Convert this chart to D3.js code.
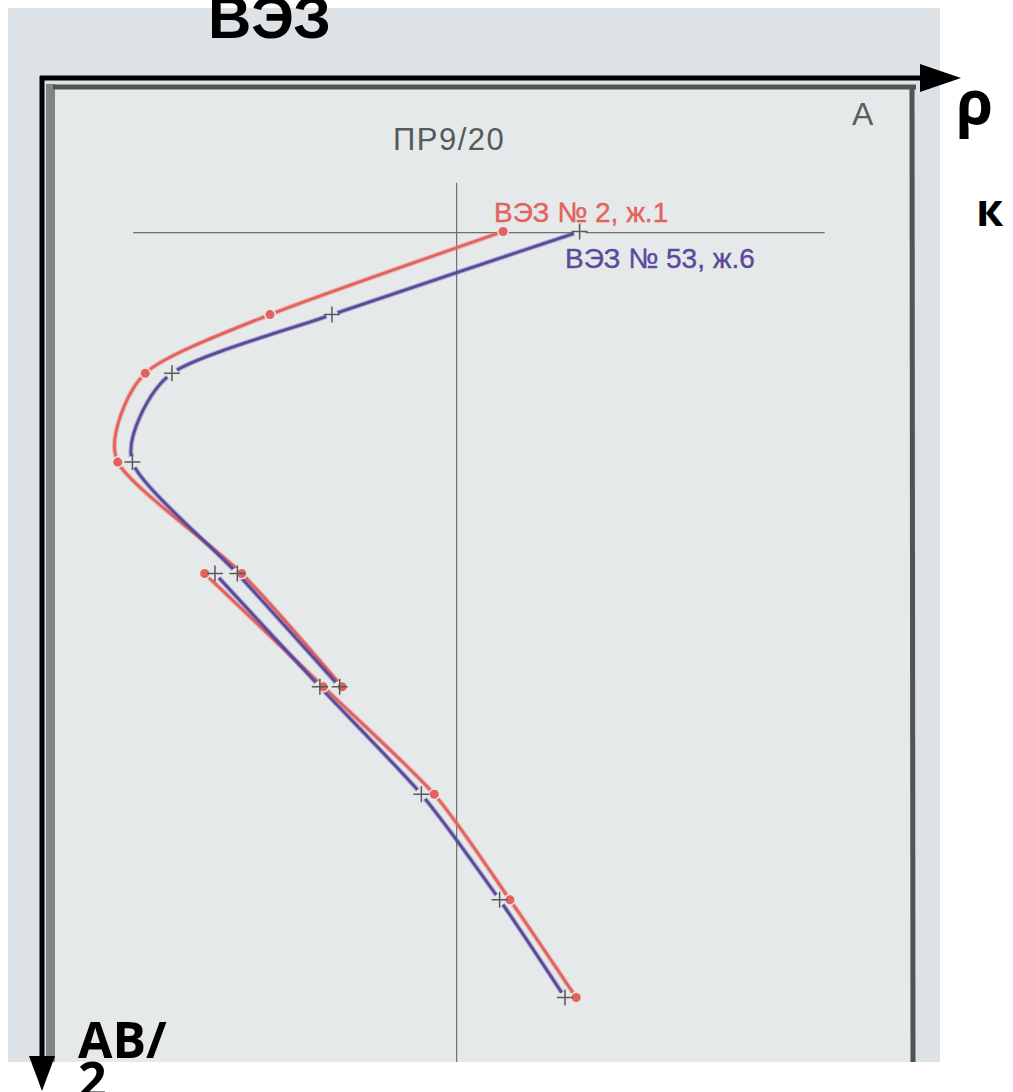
<!DOCTYPE html>
<html>
<head>
<meta charset="utf-8">
<script src="https://cdn.jsdelivr.net/npm/d3@7"></script>
<style>
  body { margin: 0; background: #ffffff; }
  svg { display: block; }
</style>
</head>
<body>
<svg id="chart"></svg>
<script>
// AB/2 levels of the readings, in % of sheet height
const ab2 = [15.0, 23.5, 29.5, 38.6, 50.0, 61.6, 72.6, 83.4, 93.4];

// ρк readings, in % of sheet width. Segment A = first MN, segment B = second MN (overlap at two AB/2)
const redA = [52.1, 25.0, 10.5, 7.3, 21.7, 33.4];          // ВЭЗ № 2, ж.1  (ab2[0..5])
const redB = [17.4, 31.2, 44.1, 52.9, 60.6];               // (ab2[4..8])
const blueA = [61.0, 32.2, 13.6, 9.0, 21.2, 33.1];         // ВЭЗ № 53, ж.6
const blueB = [18.6, 30.8, 42.6, 51.7, 59.3];

const seriesNames = ["ВЭЗ № 2, ж.1", "ВЭЗ № 53, ж.6"];
const crossRho = 46.7;   // reference vertical
const crossAb2 = 15.1;   // reference horizontal

const width = 1013;
const height = 1092;
const paperColor = '#e6e9ea';
const red = '#e4625b';
const blue = '#5a4a9c';

const svg = d3.select('#chart').attr('width', width).attr('height', height);

// sheet scales
const x = d3.scaleLinear().domain([0, 100]).range([55, 915]);
const y = d3.scaleLinear().domain([0, 100]).range([85, 1062]);

// photo background + sheet
svg.append('rect').attr('x', 8).attr('y', 8).attr('width', 932).attr('height', 1054).attr('fill', '#dce2e6');
svg.append('rect').attr('x', 55).attr('y', 86).attr('width', 858).attr('height', 976).attr('fill', paperColor);
svg.append('rect').attr('x', 46).attr('y', 84).attr('width', 9).attr('height', 978).attr('fill', '#7e8682');
svg.append('line').attr('x1', 53).attr('x2', 916).attr('y1', 87).attr('y2', 87)
    .attr('stroke', '#4e5652').attr('stroke-width', 5);
svg.append('line').attr('x1', 912).attr('x2', 913).attr('y1', 85).attr('y2', 1062)
    .attr('stroke', '#4e5652').attr('stroke-width', 5);

// reference cross lines
svg.append('line').attr('x1', x(9.1)).attr('x2', x(89.5)).attr('y1', y(crossAb2)).attr('y2', y(crossAb2))
    .attr('stroke', '#6d7170').attr('stroke-width', 1.2);
svg.append('line').attr('x1', x(crossRho)).attr('x2', x(crossRho)).attr('y1', y(10)).attr('y2', y(100))
    .attr('stroke', '#6d7170').attr('stroke-width', 1.2);

// in-sheet labels
svg.append('text').attr('x', 393).attr('y', 150).text('ПР9/20')
    .attr('font-family', 'Liberation Sans, Arial, sans-serif').attr('font-size', 31)
    .attr('letter-spacing', 1.5).attr('fill', '#555a5a');
svg.append('text').attr('x', 852).attr('y', 125).text('A')
    .attr('font-family', 'Liberation Sans, Arial, sans-serif').attr('font-size', 32)
    .attr('fill', '#5a5f5e');
svg.append('text').attr('x', 494).attr('y', 222).text(seriesNames[0])
    .attr('font-family', 'Liberation Sans, Arial, sans-serif').attr('font-size', 28)
    .attr('fill', red).attr('stroke', red).attr('stroke-width', 0.4);
svg.append('text').attr('x', 565).attr('y', 268).text(seriesNames[1])
    .attr('font-family', 'Liberation Sans, Arial, sans-serif').attr('font-size', 28)
    .attr('fill', blue).attr('stroke', blue).attr('stroke-width', 0.4);

function toPoints(vals, offset) {
    return vals.map(function (v, i) { return { rho: v, ab: ab2[i + offset] }; });
}

const curves = [
    { color: red, kind: 'dot', segs: [toPoints(redA, 0), toPoints(redB, 4)] },
    { color: blue, kind: 'cross', segs: [toPoints(blueA, 0), toPoints(blueB, 4)] }
];

const line = d3.line()
    .x(function (d) { return x(d.rho); })
    .y(function (d) { return y(d.ab); })
    .curve(d3.curveCardinal.tension(0.3));

const lineGroup = svg.append('g').attr('class', 'lines');
curves.forEach(function (c) {
    c.segs.forEach(function (seg) {
        lineGroup.append('path').attr('d', line(seg)).attr('fill', 'none')
            .attr('stroke', c.color).attr('stroke-opacity', 0.35).attr('stroke-width', 5);
        lineGroup.append('path').attr('d', line(seg)).attr('fill', 'none')
            .attr('stroke', c.color).attr('stroke-width', 2.8).attr('stroke-linecap', 'round');
    });
});

// gaps around the readings
const haloGroup = svg.append('g').attr('class', 'halos');
curves.forEach(function (c) {
    c.segs.forEach(function (seg) {
        haloGroup.selectAll(null).data(seg).enter().append('circle')
            .attr('cx', function (d) { return x(d.rho); })
            .attr('cy', function (d) { return y(d.ab); })
            .attr('r', 6).attr('fill', paperColor);
    });
});

const markGroup = svg.append('g').attr('class', 'marks');
curves.forEach(function (c) {
    c.segs.forEach(function (seg) {
        if (c.kind === 'dot') {
            markGroup.selectAll(null).data(seg).enter().append('circle')
                .attr('cx', function (d) { return x(d.rho); })
                .attr('cy', function (d) { return y(d.ab); })
                .attr('r', 4.5).attr('fill', red);
        } else {
            markGroup.selectAll(null).data(seg).enter().append('path')
                .attr('d', function (d) {
                    const cx = x(d.rho), cy = y(d.ab);
                    return 'M' + (cx - 8) + ',' + cy + 'H' + (cx + 8) + 'M' + cx + ',' + (cy - 8) + 'V' + (cy + 8);
                })
                .attr('stroke', '#555a5c').attr('stroke-width', 1.5);
        }
    });
});

// overlaid axis arrows
svg.append('line').attr('x1', 40).attr('x2', 925).attr('y1', 78).attr('y2', 78)
    .attr('stroke', '#000').attr('stroke-width', 5);
svg.append('path').attr('d', 'M920,64L961,78L920,92Z').attr('fill', '#000');
svg.append('line').attr('x1', 42).attr('x2', 42).attr('y1', 76).attr('y2', 1060)
    .attr('stroke', '#000').attr('stroke-width', 5);
svg.append('path').attr('d', 'M29,1056L42,1091L55,1056Z').attr('fill', '#000');

// overlaid annotation text
svg.append('text').attr('x', 208).attr('y', 38).text('ВЭЗ')
    .attr('font-family', 'Liberation Sans, Arial, sans-serif').attr('font-weight', 'bold')
    .attr('font-size', 60).attr('fill', '#000');
svg.append('text').attr('x', 956).attr('y', 124).text('ρ')
    .attr('font-family', 'Open Sans, sans-serif').attr('font-weight', 'bold')
    .attr('font-size', 60).attr('fill', '#000');
svg.append('text').attr('x', 976).attr('y', 226).text('к')
    .attr('font-family', 'Open Sans, sans-serif').attr('font-weight', 'bold')
    .attr('font-size', 44).attr('fill', '#000');
svg.append('text').attr('x', 78).attr('y', 1058).text('AB/')
    .attr('font-family', 'Open Sans, sans-serif').attr('font-weight', 'bold')
    .attr('font-size', 50).attr('fill', '#000');
svg.append('text').attr('x', 78).attr('y', 1098).text('2')
    .attr('font-family', 'Open Sans, sans-serif').attr('font-weight', 'bold')
    .attr('font-size', 50).attr('fill', '#000');
</script>
</body>
</html>
